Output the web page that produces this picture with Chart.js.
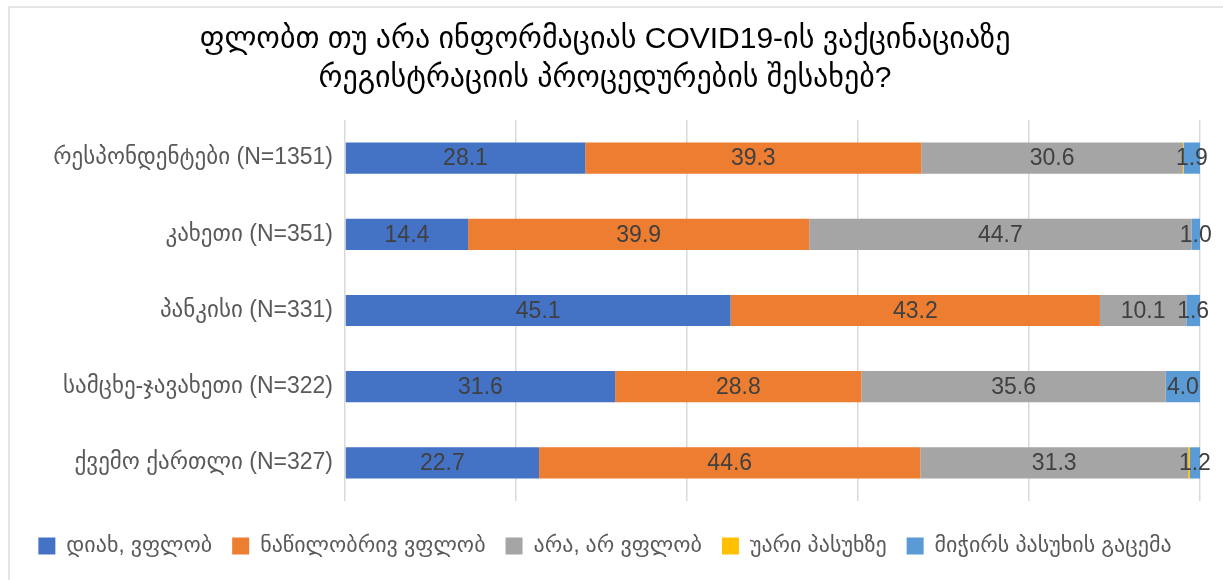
<!DOCTYPE html>
<html lang="ka">
<head>
<meta charset="utf-8">
<title>COVID19 ვაქცინაცია</title>
<script src="https://cdn.jsdelivr.net/npm/chart.js@4.4.1/dist/chart.umd.min.js"></script>
<style>
  html, body { margin: 0; padding: 0; background: #fff; }
  #wrap { position: relative; width: 1223px; height: 580px; }
  #frame {
    position: absolute; left: 8px; top: 6px; right: 0; bottom: 0;
    border-top: 2px solid #e6e6e6; border-left: 2px solid #e6e6e6;
    pointer-events: none;
  }
</style>
</head>
<body>
<div id="wrap">
  <canvas id="chart" width="1223" height="580"></canvas>
  <div id="frame"></div>
</div>
<script>
'use strict';

// ─── Data ─────────────────────────────────────────────────────────────────────

const titleLines = [
  'ფლობთ თუ არა ინფორმაციას COVID19-ის ვაქცინაციაზე',
  'რეგისტრაციის პროცედურების შესახებ?',
];

const groups = [
  'რესპონდენტები (N=1351)',
  'კახეთი (N=351)',
  'პანკისი (N=331)',
  'სამცხე-ჯავახეთი (N=322)',
  'ქვემო ქართლი (N=327)',
];

const seriesNames = [
  'დიახ, ვფლობ',
  'ნაწილობრივ ვფლობ',
  'არა, არ ვფლობ',
  'უარი პასუხზე',
  'მიჭირს პასუხის გაცემა',
];

const yesValues      = [28.1, 14.4, 45.1, 31.6, 22.7];
const partlyValues   = [39.3, 39.9, 43.2, 28.8, 44.6];
const noValues       = [30.6, 44.7, 10.1, 35.6, 31.3];
const refusedValues  = [0.1, 0.0, 0.0, 0.0, 0.2];
const hardToSay      = [1.9, 1.0, 1.6, 4.0, 1.2];

const xTicks = [0, 20, 40, 60, 80, 100];

const seriesColors = ['#4472C4', '#ED7D31', '#A5A5A5', '#FFC000', '#5B9BD5'];

// ─── Fonts ────────────────────────────────────────────────────────────────────

const FONT = '"Liberation Sans", Arial, "DejaVu Sans", sans-serif';
Chart.defaults.font.family = FONT;
Chart.defaults.color = '#595959';

// ─── Value labels inside segments ────────────────────────────────────────────

const segmentLabels = {
  id: 'segmentLabels',
  afterDatasetsDraw(chart) {
    const { ctx } = chart;
    ctx.save();
    ctx.font = `23px ${FONT}`;
    ctx.fillStyle = '#404040';
    ctx.textAlign = 'center';
    ctx.textBaseline = 'middle';
    chart.data.datasets.forEach((ds, di) => {
      const meta = chart.getDatasetMeta(di);
      if (meta.hidden) return;
      meta.data.forEach((bar, i) => {
        const v = ds.data[i];
        if (v < 0.5) return;   // slivers like 0.1 carry no label
        const { x, base, y } = bar.getProps(['x', 'base', 'y'], true);
        ctx.fillText(v.toFixed(1), (x + base) / 2, y + 1);
      });
    });
    ctx.restore();
  },
};

// ─── Chart ────────────────────────────────────────────────────────────────────

const valueSets = [yesValues, partlyValues, noValues, refusedValues, hardToSay];

new Chart(document.getElementById('chart'), {
  type: 'bar',
  data: {
    labels: groups,
    datasets: seriesNames.map((name, i) => ({
      label: name,
      data: valueSets[i],
      backgroundColor: seriesColors[i],
      borderWidth: 0,
      barPercentage: 0.82,
      categoryPercentage: 0.5,
    })),
  },
  options: {
    indexAxis: 'y',
    responsive: false,
    animation: false,
    layout: { padding: { top: 8, left: 10, right: 23, bottom: 13 } },
    plugins: {
      title: {
        display: true,
        text: titleLines,
        color: '#000',
        font: { size: 30, weight: 'normal', lineHeight: 1.3 },
        padding: { top: 12, bottom: 22 },
      },
      legend: {
        position: 'bottom',
        labels: {
          boxWidth: 17,
          boxHeight: 17,
          padding: 20,
          color: '#595959',
          font: { size: 22 },
        },
      },
      tooltip: { enabled: false },
    },
    scales: {
      x: {
        stacked: true,
        min: 0,
        max: 100,
        afterBuildTicks: (scale) => {
          scale.ticks = xTicks.map((v) => ({ value: v }));
        },
        afterFit: (scale) => { scale.height = 14; },
        ticks: { display: false },
        grid: { color: '#d9d9d9', lineWidth: 1.5, drawTicks: false },
        border: { display: false },
      },
      y: {
        stacked: true,
        afterFit: (scale) => { scale.width = 335; },
        ticks: { color: '#595959', font: { size: 23 }, padding: 12 },
        grid: { display: false, drawTicks: false },
        border: { display: false },
      },
    },
  },
  plugins: [segmentLabels],
});
</script>
</body>
</html>
